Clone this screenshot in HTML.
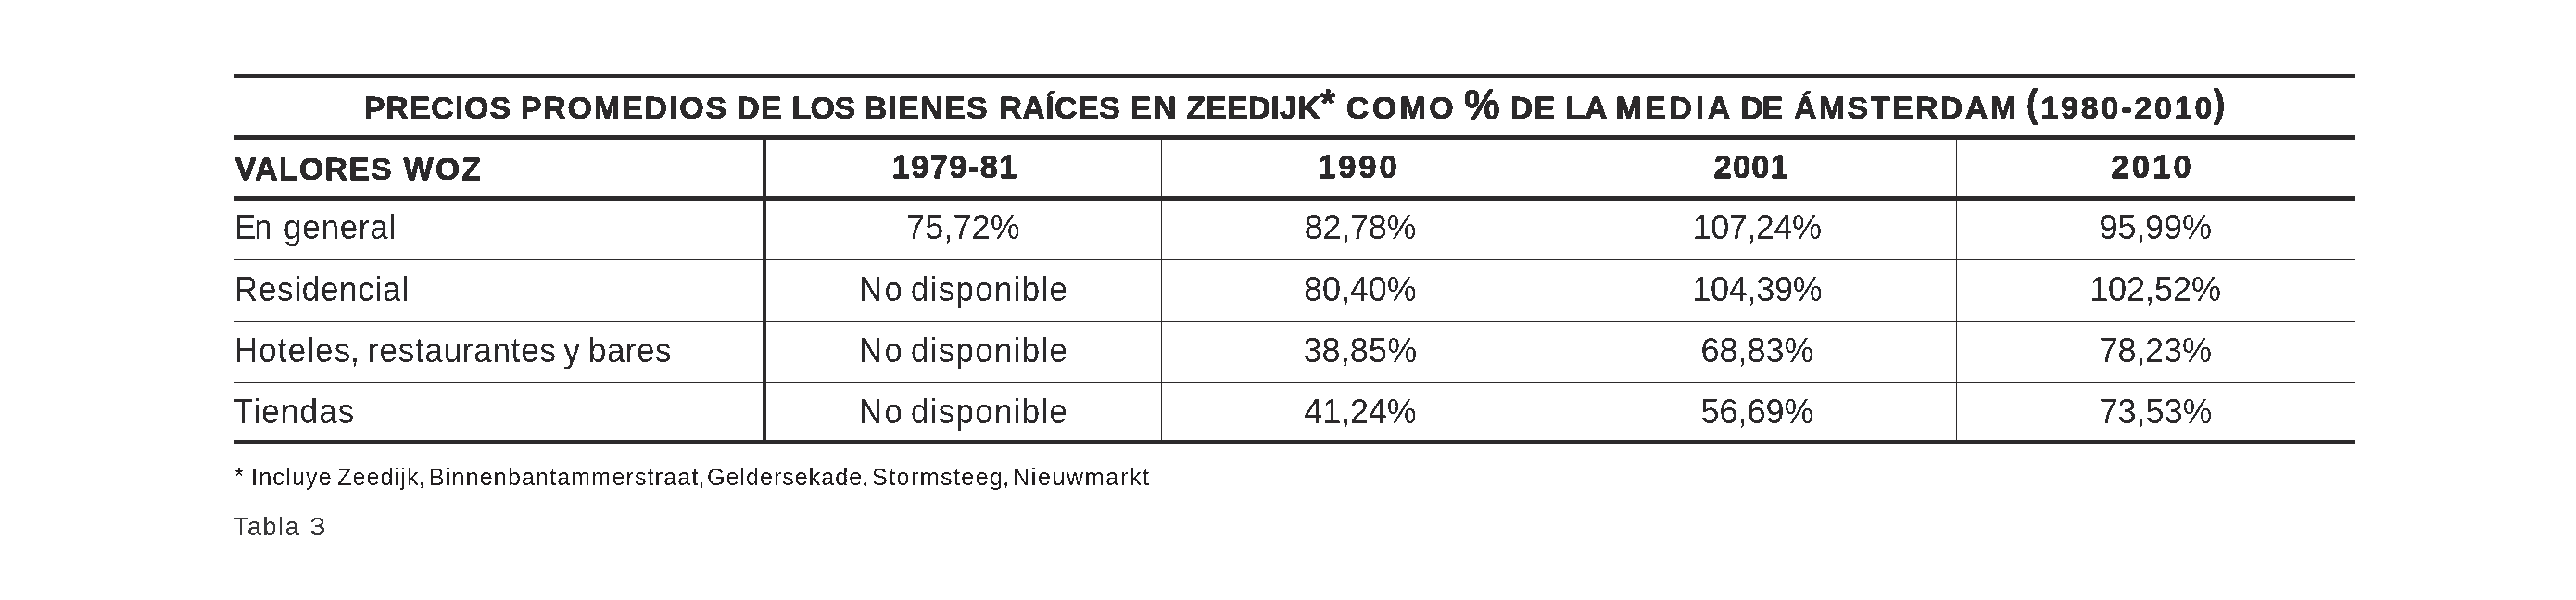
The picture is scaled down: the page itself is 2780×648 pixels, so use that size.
<!DOCTYPE html>
<html lang="es"><head><meta charset="utf-8"><title>Tabla 3</title>
<style>
html,body{margin:0;padding:0;background:#fff;}
body{width:2780px;height:648px;position:relative;overflow:hidden;font-family:"Liberation Sans",Arial,sans-serif;color:#2c2a2b;}
.l{position:absolute;background:#2c2a2b;}
.t{position:absolute;white-space:nowrap;line-height:1;margin:0;transform-origin:0 0;filter:url(#thr);}
.f{-webkit-text-stroke:0;}
.g{-webkit-text-stroke:0;}
.b{font-weight:700;-webkit-text-stroke:0.80px #2c2a2b;}
</style></head><body>
<svg width="0" height="0" style="position:absolute" aria-hidden="true"><filter id="thr" x="0" y="0" width="100%" height="100%" color-interpolation-filters="sRGB"><feComponentTransfer><feFuncA type="discrete" tableValues="0 1"/></feComponentTransfer></filter></svg>

<div class="l" style="left:253px;top:80px;width:2288px;height:4px"></div>
<div class="l" style="left:253px;top:146px;width:2288px;height:5px"></div>
<div class="l" style="left:253px;top:212px;width:2288px;height:5px"></div>
<div class="l" style="left:253px;top:280px;width:2288px;height:1px"></div>
<div class="l" style="left:253px;top:347px;width:2288px;height:1px"></div>
<div class="l" style="left:253px;top:413px;width:2288px;height:1px"></div>
<div class="l" style="left:253px;top:475px;width:2288px;height:5px"></div>
<div class="l" style="left:823px;top:146px;width:4px;height:334px"></div>
<div class="l" style="left:1253px;top:146px;width:1px;height:334px"></div>
<div class="l" style="left:1682px;top:146px;width:1px;height:334px"></div>
<div class="l" style="left:2111px;top:146px;width:1px;height:334px"></div>
<div class="t b" id="t0" style="left:392.72px;top:99.01px;font-size:34.00px;letter-spacing:0.89px">PRECIOS</div>
<div class="t b" id="t1" style="left:561.72px;top:99.01px;font-size:34.00px;letter-spacing:1.83px">PROMEDIOS</div>
<div class="t b" id="t2" style="left:795.18px;top:99.01px;font-size:34.00px;letter-spacing:1.05px">DE</div>
<div class="t b" id="t3" style="left:854.40px;top:99.01px;font-size:34.00px;letter-spacing:-0.59px">LOS</div>
<div class="t b" id="t4" style="left:932.72px;top:99.01px;font-size:34.00px;letter-spacing:1.27px">BIENES</div>
<div class="t b" id="t5" style="left:1078.40px;top:99.01px;font-size:34.00px;letter-spacing:0.35px">RAÍCES</div>
<div class="t b" id="t6" style="left:1219.72px;top:99.01px;font-size:34.00px;letter-spacing:2.52px">EN</div>
<div class="t b" id="t7" style="left:1280.20px;top:99.01px;font-size:34.00px;letter-spacing:0.16px">ZEEDIJK</div>
<div class="t b" id="t8" style="left:1452.86px;top:99.01px;font-size:34.00px;letter-spacing:3.34px">COMO</div>
<div class="t b" id="t9" style="left:1629.72px;top:99.01px;font-size:34.00px;letter-spacing:1.12px">DE</div>
<div class="t b" id="t10" style="left:1689.40px;top:99.01px;font-size:34.00px;letter-spacing:-0.14px">LA</div>
<div class="t b" id="t11" style="left:1743.40px;top:99.01px;font-size:34.00px;letter-spacing:3.57px">MEDIA</div>
<div class="t b" id="t12" style="left:1878.40px;top:99.01px;font-size:34.00px;letter-spacing:-1.33px">DE</div>
<div class="t b" id="t13" style="left:1935.88px;top:99.01px;font-size:34.00px;letter-spacing:2.40px">ÁMSTERDAM</div>
<div class="t b" id="t14" style="left:2202.40px;top:99.01px;font-size:34.00px;letter-spacing:2.81px">1980-2010</div>
<div class="t b" id="tlp" style="left:2186.86px;top:92.95px;font-size:40.30px;transform:scaleX(0.906)">(</div>
<div class="t b" id="trp" style="left:2388.88px;top:92.95px;font-size:40.30px;transform:scaleX(0.912)">)</div>
<div class="t b" id="tast" style="left:1425.44px;top:91.00px;font-size:40.00px;transform:scaleX(1.029)">*</div>
<div class="t b" id="tpct" style="left:1579.52px;top:89.51px;font-size:46.00px;transform:scaleX(0.942)">%</div>
<div class="t b" id="h0a" style="left:253.68px;top:165.01px;font-size:34.00px;letter-spacing:1.21px">VALORES</div>
<div class="t b" id="h0b" style="left:435.56px;top:165.01px;font-size:34.00px;letter-spacing:2.14px">WOZ</div>
<div class="t b" id="h1" style="left:962.72px;top:162.71px;font-size:34.50px;letter-spacing:1.35px">1979-81</div>
<div class="t b" id="h2" style="left:1421.95px;top:162.71px;font-size:34.50px;letter-spacing:3.02px">1990</div>
<div class="t b" id="h3" style="left:1849.52px;top:162.71px;font-size:34.50px;letter-spacing:1.21px">2001</div>
<div class="t b" id="h4" style="left:2278.20px;top:162.71px;font-size:34.50px;letter-spacing:3.27px">2010</div>
<div class="t" id="r0l0" style="left:253.46px;top:226.81px;font-size:37.00px;letter-spacing:-1.94px;transform:scaleX(0.940)">En</div>
<div class="t" id="r0l1" style="left:305.86px;top:226.81px;font-size:37.00px;letter-spacing:0.94px;transform:scaleX(0.940)">general</div>
<div class="t" id="r0c0" style="left:978.16px;top:227.80px;font-size:36.00px;letter-spacing:0.08px">75,72%</div>
<div class="t" id="r0c1" style="left:1407.63px;top:227.80px;font-size:36.00px;letter-spacing:-0.24px">82,78%</div>
<div class="t" id="r0c2" style="left:1826.70px;top:227.80px;font-size:36.00px;letter-spacing:-0.47px">107,24%</div>
<div class="t" id="r0c3" style="left:2265.50px;top:227.80px;font-size:36.00px;letter-spacing:-0.14px">95,99%</div>
<div class="t" id="r1l0" style="left:253.46px;top:294.00px;font-size:37.00px;letter-spacing:0.86px;transform:scaleX(0.940)">Residencial</div>
<div class="t" id="r1c0a" style="left:926.58px;top:294.00px;font-size:37.00px;letter-spacing:2.46px;transform:scaleX(0.940)">No</div>
<div class="t" id="r1c0b" style="left:983.08px;top:294.00px;font-size:37.00px;letter-spacing:1.44px;transform:scaleX(0.940)">disponible</div>
<div class="t" id="r1c1" style="left:1406.96px;top:295.01px;font-size:36.00px;letter-spacing:-0.06px">80,40%</div>
<div class="t" id="r1c2" style="left:1826.26px;top:295.01px;font-size:36.00px;letter-spacing:-0.28px">104,39%</div>
<div class="t" id="r1c3" style="left:2255.15px;top:295.01px;font-size:36.00px;letter-spacing:-0.06px">102,52%</div>
<div class="t" id="r2l0" style="left:253.24px;top:360.11px;font-size:37.00px;letter-spacing:1.26px;transform:scaleX(0.940)">Hotele<span style="letter-spacing:0">s</span>,</div>
<div class="t" id="r2l1" style="left:397.40px;top:360.11px;font-size:37.00px;letter-spacing:0.92px;transform:scaleX(0.940)">restaurantes</div>
<div class="t" id="r2l2" style="left:608.34px;top:360.11px;font-size:37.00px;transform:scaleX(0.979)">y</div>
<div class="t" id="r2l3" style="left:635.40px;top:360.11px;font-size:37.00px;letter-spacing:0.61px;transform:scaleX(0.940)">bares</div>
<div class="t" id="r2c0a" style="left:926.58px;top:360.11px;font-size:37.00px;letter-spacing:2.46px;transform:scaleX(0.940)">No</div>
<div class="t" id="r2c0b" style="left:983.08px;top:360.11px;font-size:37.00px;letter-spacing:1.44px;transform:scaleX(0.940)">disponible</div>
<div class="t" id="r2c1" style="left:1406.40px;top:361.10px;font-size:36.00px;letter-spacing:0.14px">38,85%</div>
<div class="t" id="r2c2" style="left:1835.50px;top:361.10px;font-size:36.00px">68,83%</div>
<div class="t" id="r2c3" style="left:2265.50px;top:361.10px;font-size:36.00px;letter-spacing:-0.14px">78,23%</div>
<div class="t" id="r3l0" style="left:252.20px;top:426.00px;font-size:37.00px;letter-spacing:1.37px;transform:scaleX(0.940)">Tiendas</div>
<div class="t" id="r3c0a" style="left:926.58px;top:426.00px;font-size:37.00px;letter-spacing:2.46px;transform:scaleX(0.940)">No</div>
<div class="t" id="r3c0b" style="left:983.08px;top:426.00px;font-size:37.00px;letter-spacing:1.44px;transform:scaleX(0.940)">disponible</div>
<div class="t" id="r3c1" style="left:1407.30px;top:427.01px;font-size:36.00px;letter-spacing:-0.14px">41,24%</div>
<div class="t" id="r3c2" style="left:1835.50px;top:427.01px;font-size:36.00px">56,69%</div>
<div class="t" id="r3c3" style="left:2265.40px;top:427.01px;font-size:36.00px">73,53%</div>
<div class="t f" id="fn0" style="left:253.42px;top:501.04px;font-size:26.40px;transform:scaleX(0.982);color:#231f20">*</div>
<div class="t f" id="fn1" style="left:270.62px;top:502.01px;font-size:26.40px;letter-spacing:1.29px;transform:scaleX(0.950);color:#231f20">Incluye</div>
<div class="t f" id="fn2" style="left:363.54px;top:502.01px;font-size:26.40px;letter-spacing:1.16px;transform:scaleX(0.950);color:#231f20">Zeedij<span style="letter-spacing:0">k</span>,</div>
<div class="t f" id="fn3" style="left:462.50px;top:502.01px;font-size:26.40px;letter-spacing:1.20px;transform:scaleX(0.950);color:#231f20">Binnenbantammerstraa<span style="letter-spacing:0">t</span>,</div>
<div class="t f" id="fn4" style="left:763.30px;top:502.01px;font-size:26.40px;letter-spacing:1.05px;transform:scaleX(0.950);color:#231f20">Geldersekad<span style="letter-spacing:0">e</span>,</div>
<div class="t f" id="fn5" style="left:940.62px;top:502.01px;font-size:26.40px;letter-spacing:1.50px;transform:scaleX(0.950);color:#231f20">Stormstee<span style="letter-spacing:0">g</span>,</div>
<div class="t f" id="fn6" style="left:1092.50px;top:502.01px;font-size:26.40px;letter-spacing:1.72px;transform:scaleX(0.950);color:#231f20">Nieuwmarkt</div>
<div class="t g" id="tab" style="left:251.86px;top:555.90px;font-size:27.00px;letter-spacing:1.57px;color:#3a3a3c">Tabla</div>
<div class="t g" id="tab3" style="left:333.52px;top:555.90px;font-size:27.00px;transform:scaleX(1.163);color:#3a3a3c">3</div>
</body></html>
